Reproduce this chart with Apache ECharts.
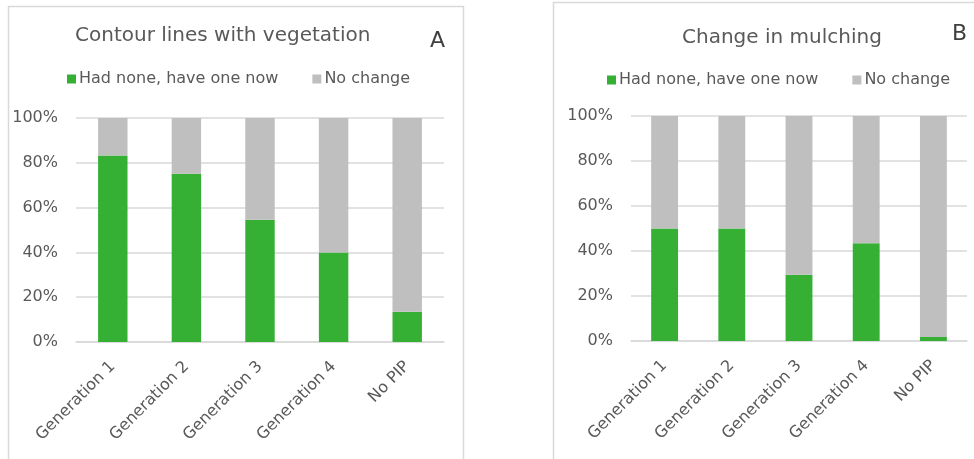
<!DOCTYPE html>
<html>
<head>
<meta charset="utf-8">
<script src="https://cdn.jsdelivr.net/npm/echarts@6/dist/echarts.min.js"></script>
<style>html,body{margin:0;padding:0;background:#fff}#c{width:974px;height:459px}</style>
</head>
<body>
<div id="c"></div>
<script>
const categories = ['Generation 1', 'Generation 2', 'Generation 3', 'Generation 4', 'No PIP'];
const contourHadNone = [83.3, 75.1, 54.6, 40.0, 13.5];
const contourNoChange = [16.7, 24.9, 45.4, 60.0, 86.5];
const mulchHadNone = [50.0, 50.0, 29.4, 43.4, 1.8];
const mulchNoChange = [50.0, 50.0, 70.6, 56.6, 98.2];
const yTicks = [0, 20, 40, 60, 80, 100];

const FONT = 'DejaVu Sans';
const GREEN = '#35B035';
const GRAY = '#BFBFBF';
const TXT = '#595959';

const chart = echarts.init(document.getElementById('c'), null, {renderer: 'canvas'});

function xAxis(i) {
  return {
    type: 'category', gridIndex: i, data: categories,
    axisTick: {show: false},
    axisLine: {lineStyle: {color: '#D9D9D9', width: 1.5}},
    axisLabel: {rotate: 45, fontFamily: FONT, fontSize: 16, color: TXT, margin: 22, interval: 0}
  };
}
function yAxis(i) {
  return {
    type: 'value', gridIndex: i, min: yTicks[0], max: yTicks[yTicks.length - 1], interval: 20,
    axisLine: {show: false}, axisTick: {show: false},
    splitLine: {lineStyle: {color: '#D9D9D9', width: 1.5}},
    axisLabel: {formatter: '{value}%', fontFamily: FONT, fontSize: 16, color: TXT, margin: 18}
  };
}
function bar(name, data, color, i) {
  return {
    name: name, type: 'bar', stack: 's' + i, xAxisIndex: i, yAxisIndex: i,
    data: data, barWidth: '40%', itemStyle: {color: color}, emphasis: {disabled: true}
  };
}

const legendBase = {
  itemWidth: 9, itemHeight: 9, itemGap: 34, icon: 'rect',
  textStyle: {fontFamily: FONT, fontSize: 16, color: TXT, padding: [0, 0, 0, -2]},
  data: ['Had none, have one now', 'No change']
};

chart.setOption({
  animation: false,
  title: [
    {text: 'Contour lines with vegetation', left: 70, top: 21, textStyle: {fontFamily: FONT, fontSize: 20, fontWeight: 'normal', color: TXT}},
    {text: 'Change in mulching', left: 677, top: 23, textStyle: {fontFamily: FONT, fontSize: 20, fontWeight: 'normal', color: TXT}},
    {text: 'A', left: 425, top: 25, textStyle: {fontFamily: FONT, fontSize: 22, fontWeight: 'normal', color: '#404040'}},
    {text: 'B', left: 947, top: 18, textStyle: {fontFamily: FONT, fontSize: 22, fontWeight: 'normal', color: '#404040'}}
  ],
  legend: [
    Object.assign({}, legendBase, {left: 62, top: 66}),
    Object.assign({}, legendBase, {left: 602, top: 67})
  ],
  grid: [
    {left: 76, right: 530, top: 118, bottom: 117},
    {left: 631, right: 7, top: 116, bottom: 118}
  ],
  xAxis: [xAxis(0), xAxis(1)],
  yAxis: [yAxis(0), yAxis(1)],
  series: [
    bar('Had none, have one now', contourHadNone, GREEN, 0),
    bar('No change', contourNoChange, GRAY, 0),
    bar('Had none, have one now', mulchHadNone, GREEN, 1),
    bar('No change', mulchNoChange, GRAY, 1)
  ],
  graphic: [
    {type: 'rect', shape: {x: 8.5, y: 6.5, width: 455, height: 470}, style: {fill: 'none', stroke: '#D9D9D9', lineWidth: 1.5}, silent: true},
    {type: 'rect', shape: {x: 553.5, y: 2.5, width: 440, height: 470}, style: {fill: 'none', stroke: '#D9D9D9', lineWidth: 1.5}, silent: true}
  ]
});
</script>
</body>
</html>
